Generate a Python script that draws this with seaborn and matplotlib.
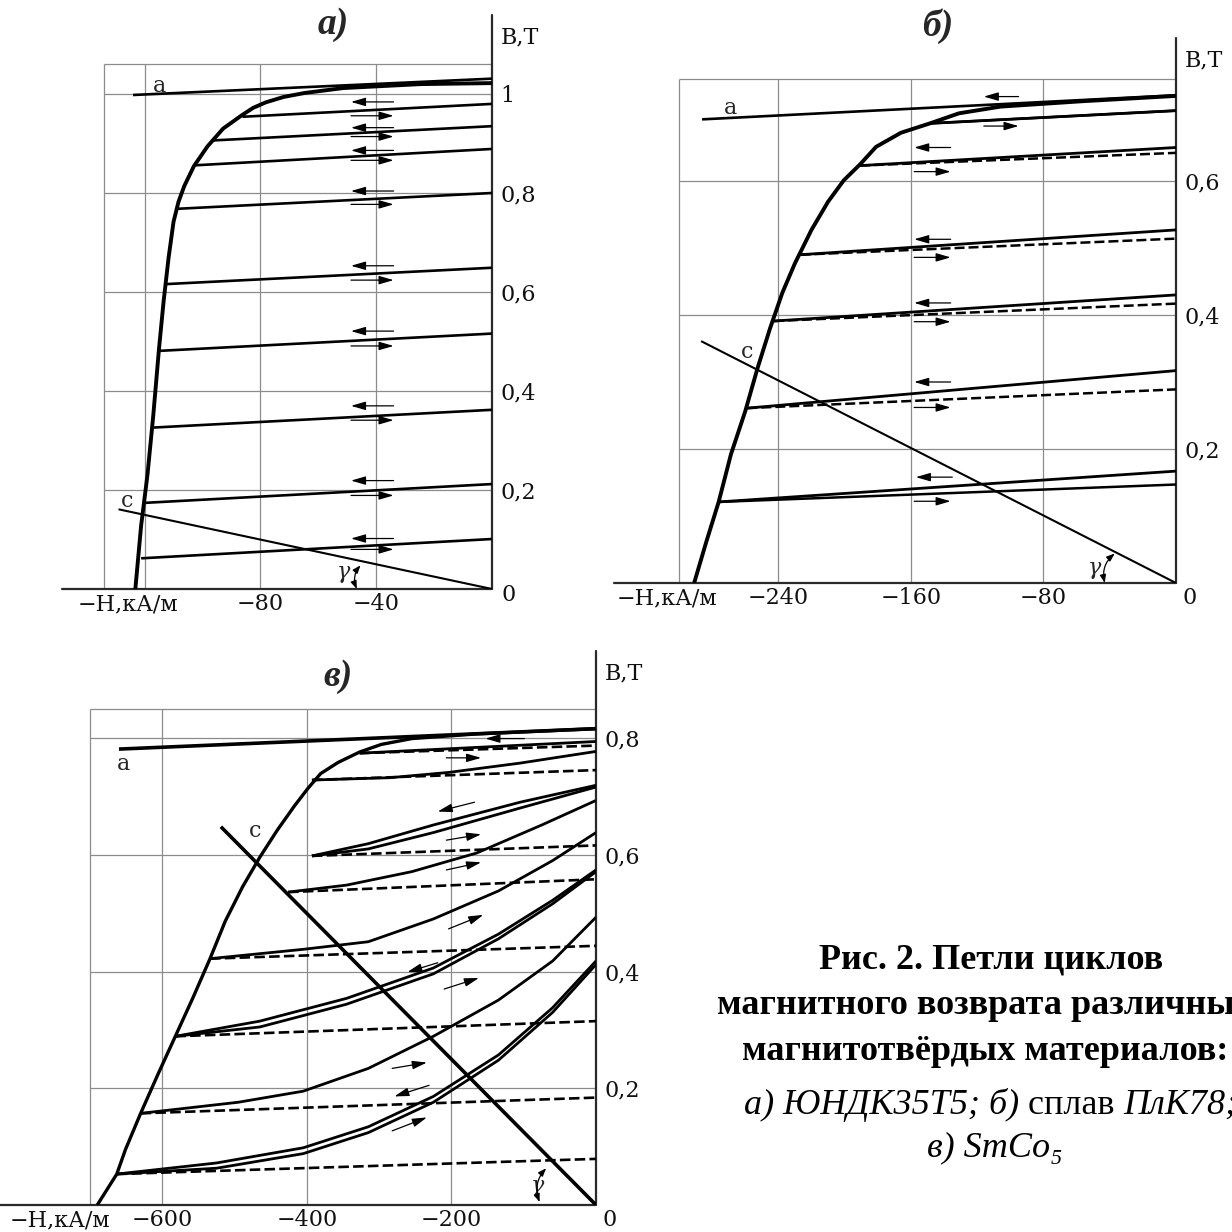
import numpy as np
import pandas as pd
import seaborn as sns
import matplotlib.pyplot as plt

# ---------------- data ----------------
# panel a) ЮНДК35Т5
a_demag_H = [0, -24.6, -51.4, -64.8, -72, -78.2, -82.5, -86.2, -92.9, -98.3, -103, -106.3, -108.3,
             -110, -111.7, -113.4, -115, -117, -119, -121.2, -123.2]
a_demag_B = [1.022, 1.020, 1.012, 1.002, 0.994, 0.983, 0.972, 0.958, 0.930, 0.894, 0.854, 0.814,
             0.782, 0.742, 0.670, 0.583, 0.487, 0.351, 0.231, 0.128, 0.0]
a_line_H = [-124, 0]
a_line_B = [0.998, 1.031]
a_load_H = [-129, 0]
a_load_B = [0.161, 0.0]
a_rec_H = [-86.2, -97, -102.4, -109, -112.5, -115.2, -117.4, -120, -121.2]
a_rec_B0 = [0.954, 0.906, 0.856, 0.768, 0.616, 0.481, 0.326, 0.174, 0.062]
a_rec_B1 = [0.980, 0.935, 0.889, 0.800, 0.649, 0.516, 0.362, 0.212, 0.101]
a_arrow_left_B = [0.984, 0.932, 0.886, 0.804, 0.653, 0.521, 0.370, 0.219, 0.102]
a_arrow_right_B = [0.956, 0.914, 0.866, 0.777, 0.624, 0.491, 0.341, 0.189, 0.080]
a_arrow_H = [-34, -48.7]

# panel б) ПлК78
b_demag_H = [0, -57, -106, -131, -148.5, -166, -181, -190.6, -200.5, -210, -220, -230, -237.6,
             -245, -252.5, -260, -268.6, -276, -283.4, -290.8]
b_demag_B = [0.727, 0.719, 0.711, 0.701, 0.686, 0.672, 0.651, 0.625, 0.601, 0.569, 0.527, 0.477,
             0.433, 0.380, 0.321, 0.256, 0.192, 0.121, 0.062, 0.0]
b_line_H = [-286, 0]
b_line_B = [0.692, 0.728]
b_load_H = [-286.6, 0]
b_load_B = [0.361, 0.0]
b_rec_H = [-148.5, -190.6, -226.5, -242.6, -258.7, -276]
b_rec_B0 = [0.686, 0.623, 0.490, 0.391, 0.261, 0.121]
b_rec_top = [0.705, 0.650, 0.527, 0.430, 0.317, 0.167]
b_rec_low = [0.705, 0.642, 0.514, 0.417, 0.289, 0.147]
b_rec_low_style = ['-', '--', '--', '--', '--', '-']
b_arrow_left_H = [[-95, -116], [-136, -158], [-136, -158], [-136, -158], [-136, -158], [-135, -157]]
b_arrow_left_B = [0.726, 0.650, 0.513, 0.418, 0.300, 0.158]
b_arrow_right_H = [[-116, -95], [-158, -136], [-158, -136], [-158, -136], [-158, -136], [-158, -136]]
b_arrow_right_B = [0.682, 0.614, 0.486, 0.390, 0.262, 0.122]

# panel в) SmCo5
c_demag_H = [0, -165, -255, -297, -327, -357, -381, -399, -417, -441, -465, -489, -513, -534,
             -558, -582, -606, -630, -651, -663, -690]
c_demag_B = [0.816, 0.807, 0.799, 0.789, 0.776, 0.758, 0.739, 0.713, 0.684, 0.642, 0.596, 0.545,
             0.486, 0.422, 0.354, 0.289, 0.224, 0.157, 0.095, 0.053, 0.0]
c_line_H = [-660, 0]
c_line_B = [0.781, 0.816]
c_load_H = [-519, 0]
c_load_B = [0.648, 0.0]
# recoil branches: solid curves (H, B lists) and dashed straight returns
c_solid = [
    ([-327, 0], [0.774, 0.794]),
    ([-393, -285, -204, -105, 0], [0.728, 0.732, 0.741, 0.757, 0.777]),
    ([-393, -315, -225, -105, 0], [0.598, 0.619, 0.651, 0.690, 0.719]),
    ([-393, -315, -225, -105, 0], [0.598, 0.610, 0.638, 0.680, 0.716]),
    ([-426, -345, -255, -165, -75, 0], [0.536, 0.548, 0.571, 0.603, 0.651, 0.693]),
    ([-534, -405, -315, -225, -135, -60, 0], [0.422, 0.438, 0.451, 0.490, 0.538, 0.590, 0.638]),
    ([-582, -465, -345, -225, -135, -60, 0], [0.289, 0.315, 0.354, 0.406, 0.464, 0.522, 0.574]),
    ([-582, -465, -345, -225, -135, -60, 0], [0.289, 0.305, 0.344, 0.396, 0.456, 0.516, 0.571]),
    ([-630, -495, -405, -315, -225, -135, -60, 0], [0.157, 0.176, 0.195, 0.234, 0.289, 0.351, 0.418, 0.493]),
    ([-663, -525, -405, -315, -225, -135, -60, 0], [0.053, 0.072, 0.098, 0.134, 0.186, 0.257, 0.338, 0.418]),
    ([-663, -525, -405, -315, -225, -135, -60, 0], [0.053, 0.063, 0.088, 0.124, 0.176, 0.248, 0.330, 0.412]),
]
c_dash_H0 = [-327, -393, -393, -426, -534, -582, -630, -663]
c_dash_B0 = [0.774, 0.728, 0.598, 0.536, 0.422, 0.289, 0.157, 0.053]
c_dash_B1 = [0.787, 0.745, 0.616, 0.558, 0.444, 0.315, 0.184, 0.079]
c_arrows = [  # (H_from, B_from, H_to, B_to)
    (-99, 0.799, -153, 0.799), (-207, 0.766, -159, 0.766),
    (-168, 0.690, -219, 0.674), (-207, 0.625, -159, 0.635),
    (-207, 0.574, -159, 0.587), (-204, 0.473, -156, 0.497),
    (-219, 0.415, -261, 0.399), (-210, 0.370, -162, 0.389),
    (-282, 0.234, -234, 0.244), (-231, 0.205, -279, 0.186),
    (-282, 0.127, -234, 0.150),
]

caption_bold = ['Рис. 2. Петли циклов', 'магнитного возврата различных', 'магнитотвёрдых материалов:']
caption_parts = [('а) ЮНДК35Т5; б) ', 'italic'), ('сплав ', 'normal'), ('ПлК78;', 'italic')]
caption_last = 'в) SmCo₅'

# ---------------- helpers ----------------
W = 1232
sns.set_theme(style='white')
plt.rcParams['font.family'] = ['DejaVu Serif']
fig = plt.figure(figsize=(12.32, 12.32), dpi=100)
fig.patch.set_facecolor('white')

GRID = '#8c8c8c'
AXC = '#2a2a2a'


def make_axes(h0, b0, ph, pb, xlim, ylim):
    left = h0 + xlim[0] * ph
    right = h0 + xlim[1] * ph
    bot = b0 - ylim[0] * pb
    top = b0 - ylim[1] * pb
    ax = fig.add_axes([left / W, 1 - bot / W, (right - left) / W, (bot - top) / W])
    for s in ax.spines.values():
        s.set_visible(False)
    ax.set_facecolor('none')
    return ax


def curve(ax, H, B, lw=2.0, ls='-'):
    sns.lineplot(x=H, y=B, ax=ax, color='black', linewidth=lw, linestyle=ls,
                 sort=False, estimator=None, solid_capstyle='butt', dash_capstyle='butt',
                 solid_joinstyle='round')


def arrow(ax, h0, b0, h1, b1):
    ax.annotate('', xy=(h1, b1), xytext=(h0, b0),
                arrowprops=dict(arrowstyle='-|>,head_length=0.55,head_width=0.16',
                                color='black', lw=0.9, mutation_scale=16,
                                shrinkA=0, shrinkB=0))


def gamma_arc(ax, h0, b0, h1, b1):
    ax.annotate('', xy=(h1, b1), xytext=(h0, b0),
                arrowprops=dict(arrowstyle='<|-|>,head_length=0.4,head_width=0.15', color='black',
                                lw=0.9, mutation_scale=12, shrinkA=0, shrinkB=0,
                                connectionstyle='arc3,rad=0.3'))


def frame(ax, xlim, ylim, grid_H, grid_B, grid_left, grid_top,
          xt, yt, yt_lab, name_H, zero_off):
    ax.vlines(grid_H + [grid_left], 0, grid_top, color=GRID, lw=0.9, zorder=0)
    ax.hlines(grid_B + [grid_top], grid_left, 0, color=GRID, lw=0.9, zorder=0)
    ax.axvline(0, color=AXC, lw=1.6, clip_on=False, zorder=1)
    ax.axhline(0, color=AXC, lw=1.6, clip_on=False, zorder=1)
    ax.set_xlim(xlim)
    ax.set_ylim(ylim)
    ax.set_xticks(xt + [name_H], [f'\u2212{abs(v)}' for v in xt] + ['\u2212H,кА/м'])
    ax.tick_params(axis='x', length=0, pad=3, labelsize=16, colors='#111')
    ax.yaxis.tick_right()
    ax.set_yticks(yt, yt_lab)
    ax.tick_params(axis='y', length=0, pad=6, labelsize=16, colors='#111')
    ax.set_xlabel('')
    ax.set_ylabel('')
    ax.annotate('0', xy=(0, 0), xytext=zero_off, textcoords='offset points',
                ha='left', va='center', fontsize=16, color='#111')
    ax.annotate('B,T', xy=(0, ylim[1]), xytext=(6.5, -16), textcoords='offset points',
                ha='left', va='center', fontsize=16, color='#111')


# ---------------- panel a ----------------
ax1 = make_axes(492, 589, 2.895, 495, (-148.5, 0), (0, 1.16))
curve(ax1, a_line_H, a_line_B, lw=1.9)
for h, b0, b1 in zip(a_rec_H, a_rec_B0, a_rec_B1):
    curve(ax1, [h, 0], [b0, b1], lw=1.9)
curve(ax1, a_demag_H, a_demag_B, lw=2.8)
curve(ax1, a_load_H, a_load_B, lw=1.5)
for bl, br in zip(a_arrow_left_B, a_arrow_right_B):
    arrow(ax1, a_arrow_H[0], bl, a_arrow_H[1], bl)
    arrow(ax1, a_arrow_H[1], br, a_arrow_H[0], br)
frame(ax1, (-148.5, 0), (0, 1.16), [-120, -80, -40], [0.2, 0.4, 0.6, 0.8, 1.0], -134, 1.06,
      [-80, -40], [0.2, 0.4, 0.6, 0.8, 1.0], ['0,2', '0,4', '0,6', '0,8', '1'], -125.7, (7, -4))
ax1.text(-115, 1.017, 'a', ha='center', va='center', fontsize=16)
ax1.text(-125.9, 0.178, 'c', ha='center', va='center', fontsize=16)
ax1.text(-51.4, 0.034, 'γ', ha='center', va='center', fontsize=16, style='italic')
gamma_arc(ax1, -45.4, 0.048, -46.7, 0.0)

# ---------------- panel б ----------------
ax2 = make_axes(1176, 583, 1.657, 670, (-339, 0), (0, 0.813))
curve(ax2, b_line_H, b_line_B, lw=1.9)
for h, b0, bt, bl, st in zip(b_rec_H, b_rec_B0, b_rec_top, b_rec_low, b_rec_low_style):
    curve(ax2, [h, 0], [b0, bt], lw=2.0)
    curve(ax2, [h, 0], [b0, bl], lw=1.8, ls='-' if st == '-' else (0, (4, 1.6)))
curve(ax2, b_demag_H, b_demag_B, lw=2.8)
curve(ax2, b_load_H, b_load_B, lw=1.5)
for hl, bl, hr, br in zip(b_arrow_left_H, b_arrow_left_B, b_arrow_right_H, b_arrow_right_B):
    arrow(ax2, hl[0], bl, hl[1], bl)
    arrow(ax2, hr[0], br, hr[1], br)
frame(ax2, (-339, 0), (0, 0.813), [-240, -160, -80], [0.2, 0.4, 0.6], -300, 0.752,
      [-240, -160, -80], [0.2, 0.4, 0.6], ['0,2', '0,4', '0,6'], -307, (5, -11))
ax2.text(-268.6, 0.709, 'a', ha='center', va='center', fontsize=16)
ax2.text(-258.7, 0.345, 'c', ha='center', va='center', fontsize=16)
ax2.text(-49.5, 0.023, 'γ', ha='center', va='center', fontsize=16, style='italic')
gamma_arc(ax2, -37, 0.044, -43, 0.0)

# ---------------- panel в ----------------
ax3 = make_axes(596, 1205, 0.7228, 583.75, (-824, 0), (0, 0.949))
curve(ax3, c_line_H, c_line_B, lw=2.6)
for H, B in c_solid:
    curve(ax3, H, B, lw=2.0)
for h, b0, b1 in zip(c_dash_H0, c_dash_B0, c_dash_B1):
    curve(ax3, [h, 0], [b0, b1], lw=1.9, ls=(0, (4, 1.6)))
curve(ax3, c_demag_H, c_demag_B, lw=2.4)
curve(ax3, c_load_H, c_load_B, lw=2.6)
for h0, b0, h1, b1 in c_arrows:
    arrow(ax3, h0, b0, h1, b1)
frame(ax3, (-824, 0), (0, 0.949), [-600, -400, -200], [0.2, 0.4, 0.6, 0.8], -700, 0.849,
      [-600, -400, -200], [0.2, 0.4, 0.6, 0.8], ['0,2', '0,4', '0,6', '0,8'], -741.6, (5, -11))
ax3.text(-654, 0.755, 'a', ha='center', va='center', fontsize=16)
ax3.text(-471, 0.640, 'c', ha='center', va='center', fontsize=16)
ax3.text(-81, 0.032, 'γ', ha='center', va='center', fontsize=16, style='italic')
gamma_arc(ax3, -69, 0.063, -78, 0.005)

# ---------------- titles & caption ----------------
tfont = dict(family=['Liberation Serif', 'DejaVu Serif'], weight='bold', style='italic',
             fontsize=27, ha='center', va='center')
fig.text(333 / W, 1 - 24 / W, 'а)', **tfont)
fig.text(938 / W, 1 - 26 / W, 'б)', **tfont)
fig.text(338 / W, 1 - 676 / W, 'в)', **tfont)

cap = ['Liberation Serif', 'DejaVu Serif']
CS = 26
renderer = fig.canvas.get_renderer()
fig.text(991 / W, 1 - 960 / W, caption_bold[0], family=cap, weight='bold', color='black',
         fontsize=CS, ha='center', va='center')
# third line ends just inside the right edge, second line shares its centre
t3 = fig.text(1228 / W, 1 - 1051 / W, caption_bold[2], family=cap, weight='bold', color='black',
              fontsize=CS, ha='right', va='center')
bb = t3.get_window_extent(renderer)
mid = (bb.x0 + bb.x1) / 2 / W
fig.text(mid, 1 - 1006 / W, caption_bold[1], family=cap, weight='bold', color='black',
         fontsize=CS, ha='center', va='center')

x = 744 / W
for piece, st in caption_parts:
    t = fig.text(x, 1 - 1105 / W, piece, family=cap, style=st, fontsize=CS,
                 ha='left', va='center', color='black')
    x += t.get_window_extent(renderer).width / W
fig.text(995 / W, 1 - 1148 / W, caption_last, family=cap, style='italic', fontsize=CS,
         ha='center', va='center', color='black')

fig.savefig('out.png', dpi=100, facecolor='white')
